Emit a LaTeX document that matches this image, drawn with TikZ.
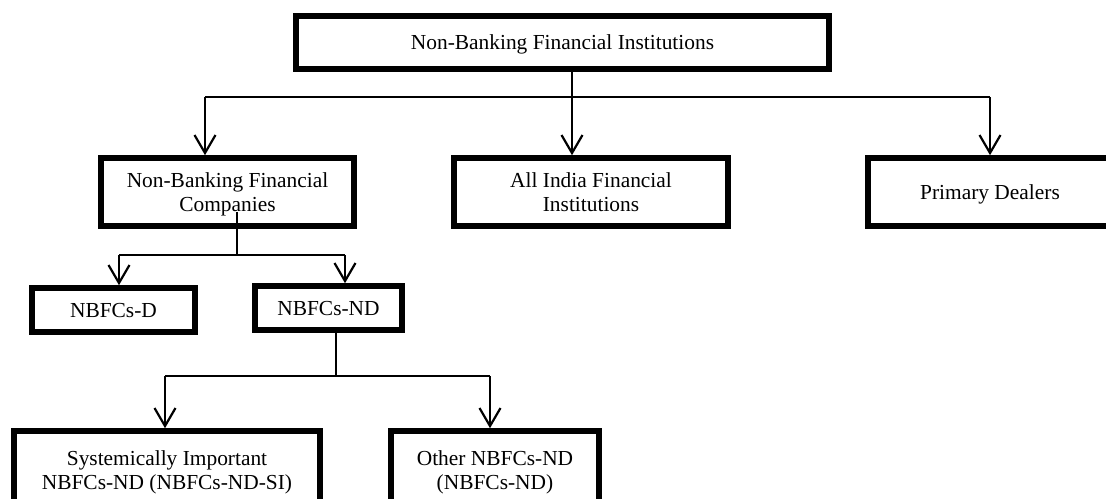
\documentclass[tikz,border=0pt]{standalone}
\usepackage{fontspec}
\setmainfont{Liberation Serif}
\usetikzlibrary{arrows.meta}
\tikzset{
	unit/.style={draw, rectangle, line width=2.8pt, inner sep=0pt, text depth=0pt, align=center, font=\fontsize{10.7}{11.6}\selectfont},
	% for the connectors between the boxes
	link/.style={line width=1.1pt, black},
}

\begin{document}
\begin{tikzpicture}[x=0.5pt, y=-0.5pt]
	\useasboundingbox (0,0) rectangle (1106,498);
	\clip (0,0) rectangle (1106,498);

	\node (nbfi) [unit, minimum width=266.5pt, minimum height=26.5pt] at (562.5,42.5) {Non-Banking Financial Institutions};

	\node (nbfc) [unit, minimum width=126.5pt, minimum height=34pt] at (227.5,192) {Non-Banking Financial\\Companies};
	\node (aifi) [unit, minimum width=137pt, minimum height=34pt] at (591,192) {All India Financial\\Institutions};
	\node (pd) [unit, minimum width=122pt, minimum height=34pt] at (990,192) {Primary Dealers};

	\node (nbfcd) [unit, minimum width=81.5pt, minimum height=22pt] at (113.5,310) {NBFCs-D};
	\node (nbfcnd) [unit, minimum width=73.5pt, minimum height=22pt] at (328.5,308) {NBFCs-ND};

	\node (si) [unit, minimum width=153pt, minimum height=39pt] at (167,470) {Systemically Important\\NBFCs-ND (NBFCs-ND-SI)};
	\node (other) [unit, minimum width=104pt, minimum height=39pt] at (495,470) {Other NBFCs-ND\\(NBFCs-ND)};

	%\coordinate (bus1) at (562.5,97);
	\coordinate (bus1) at (572,97);
	\coordinate (bus1l) at (205,97);
	\coordinate (bus1r) at (990,97);

	\coordinate (nbfcout) at (237,212);
	\coordinate (bus2) at (237,255);
	\coordinate (bus2l) at (119,255);
	\coordinate (bus2r) at (345,255);

	\coordinate (bus3) at (336,376);
	\coordinate (bus3l) at (165,376);
	\coordinate (bus3r) at (490,376);

	\begin{scope}[link, ->, >={Straight Barb[length=9pt, width=10.5pt]}]
		\draw (bus1l) -- (bus1l |- nbfc.north);
		\draw (nbfi.south -| bus1) -- (bus1 |- aifi.north);
		\draw (bus1r) -- (bus1r |- pd.north);
		\draw (bus2l) -- (bus2l |- nbfcd.north);
		\draw (bus2r) -- (bus2r |- nbfcnd.north);
		\draw (bus3l) -- (bus3l |- si.north);
		\draw (bus3r) -- (bus3r |- other.north);
	\end{scope}

	\begin{scope}[link]
		\draw (bus1l) -- (bus1r);
		\draw (nbfcout) -- (bus2);
		\draw (bus2l) -- (bus2r);
		\draw (nbfcnd.south -| bus3) -- (bus3);
		\draw (bus3l) -- (bus3r);
	\end{scope}
\end{tikzpicture}
\end{document}
